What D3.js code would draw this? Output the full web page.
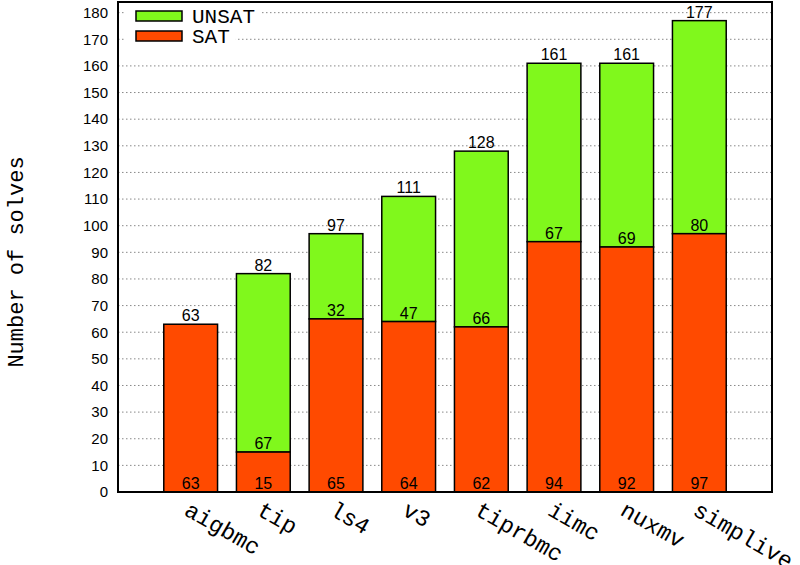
<!DOCTYPE html>
<html><head><meta charset="utf-8">
<script src="https://cdn.jsdelivr.net/npm/d3@7"></script>
<style>body{margin:0;background:#fff}</style>
</head><body>
<svg id="c" width="800" height="565"></svg>
<script>
const categories = ["aigbmc","tip","ls4","v3","tiprbmc","iimc","nuxmv","simplive"];
const satValues = [63,15,65,64,62,94,92,97];
const unsatValues = [0,67,32,47,66,67,69,80];
const yTicks = d3.range(0,181,10);
const seriesNames = ["UNSAT","SAT"];

const svg = d3.select("#c");
const L=118,R=772,T=2,B=492;
const x = d3.scaleLinear().domain([0,categories.length+1]).range([L,R]);
const y = d3.scaleLinear().domain([0,184]).range([B,T]);
const bw = (x(1)-x(0))*0.74;
const cGreen="#80f81c", cRed="#ff4a00";
const mono="'Liberation Mono','DejaVu Sans Mono',monospace";
const sans="'Liberation Sans',Arial,sans-serif";

// gridlines
svg.append("g").selectAll("line").data(yTicks.filter(d=>d>0)).join("line")
  .attr("x1",L).attr("x2",R).attr("y1",d=>y(d)).attr("y2",d=>y(d))
  .attr("stroke","#888").attr("stroke-width",1).attr("stroke-dasharray","1.5,2.5");

// y axis ticks labels
const yAxis = d3.axisLeft(y).tickValues(yTicks).tickSize(0).tickPadding(10);
const ga = svg.append("g").attr("transform",`translate(${L},0)`).call(yAxis);
ga.select(".domain").remove();
ga.selectAll("text").attr("font-family",sans).attr("font-size",15).attr("fill","#000");

// legend
const legCols = [cGreen,cRed];
seriesNames.forEach((n,i)=>{
  const ly = 16 + i*20;
  const lg = svg.append("g");
  const bg = lg.append("rect").attr("fill","#fff");
  const t = lg.append("text").attr("x",192).attr("y",ly+7).attr("font-family",mono)
    .attr("font-size",21).text(n);
  const w = t.node().getComputedTextLength();
  bg.attr("x",126).attr("y",ly-9).attr("width",192+w+6-126).attr("height",18);
  lg.append("rect").attr("x",136).attr("y",ly-5).attr("width",46).attr("height",10)
    .attr("fill",legCols[i]).attr("stroke","#000").attr("stroke-width",1.5);
});

// bars
const g = svg.append("g");
categories.forEach((c,i)=>{
  const cx = x(i+1);
  const s = satValues[i], u = unsatValues[i], tot = s+u;
  if(u>0){
    g.append("rect").attr("x",cx-bw/2).attr("y",y(tot)).attr("width",bw).attr("height",y(s)-y(tot))
      .attr("fill",cGreen).attr("stroke","#000").attr("stroke-width",1.5);
  }
  g.append("rect").attr("x",cx-bw/2).attr("y",y(s)).attr("width",bw).attr("height",y(0)-y(s))
    .attr("fill",cRed).attr("stroke","#000").attr("stroke-width",1.5);
  const lab=(v,yy)=>g.append("text").attr("x",cx).attr("y",yy).attr("text-anchor","middle")
    .attr("font-family",sans).attr("font-size",16).attr("fill","#000").text(v);
  lab(s, y(0)-3);
  if(u>0) lab(u, y(s)-3);
  lab(tot, y(tot)-3);
  g.append("text").attr("transform",`translate(${cx},${B+9}) rotate(30)`)
    .attr("font-family",mono).attr("font-size",23).attr("dominant-baseline","hanging").text(c);
});

// frame
svg.append("rect").attr("x",L).attr("y",T).attr("width",R-L).attr("height",B-T)
  .attr("fill","none").attr("stroke","#000").attr("stroke-width",2);

// y title
svg.append("text").attr("transform",`translate(23,262) rotate(-90)`).attr("text-anchor","middle")
  .attr("font-family",mono).attr("font-size",22).text("Number of solves");
</script>
</body></html>
